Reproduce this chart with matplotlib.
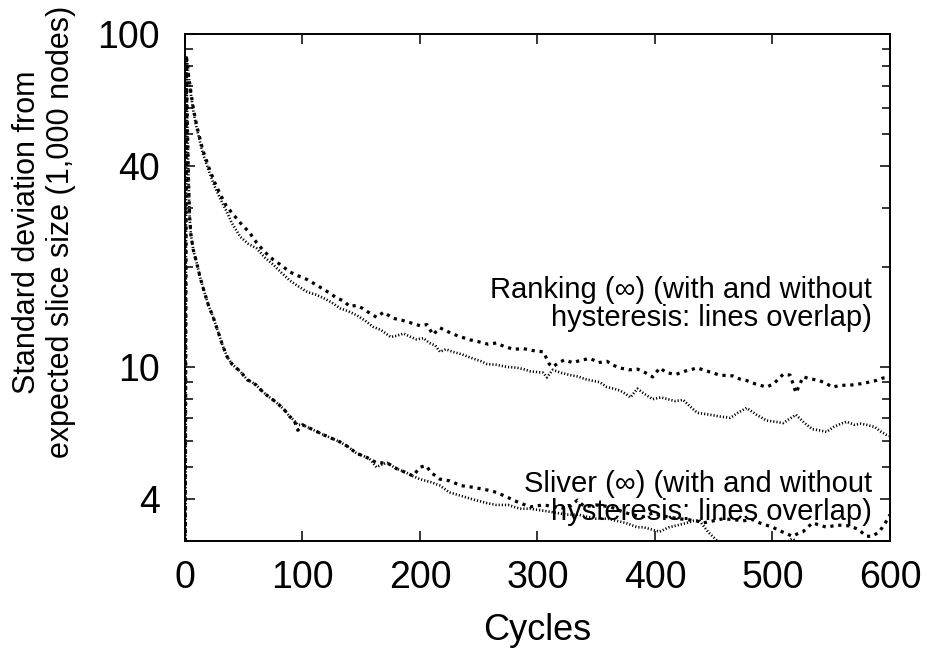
import numpy as np
import matplotlib
matplotlib.use('Agg')
import matplotlib.pyplot as plt
from matplotlib.ticker import FixedLocator, NullFormatter

plt.rcParams['font.family'] = ['Liberation Sans', 'DejaVu Sans']

# Ranking, line drawn with heavy dots (ends higher)
rank_a_x = [0, 1, 2, 3, 5, 7, 10, 15, 20, 25, 30, 35, 40, 47, 55, 61, 67, 75, 82, 89,
            96, 104, 111, 118, 124, 129, 135, 140, 146, 151, 156, 163, 169, 177, 185, 194,
            200, 206, 211, 217, 225, 232, 243, 250, 258, 265, 272, 280, 288, 296, 305, 310,
            313, 318, 323, 330, 338, 345, 352, 359, 365, 370, 378, 385, 392, 398, 404, 410,
            418, 425, 436, 445, 455, 466, 472, 478, 485, 490, 495, 501, 509, 515, 520, 526,
            533, 540, 546, 551, 558, 568, 575, 582, 588, 594, 600]
rank_a_y = [1.0, 86, 82, 75, 67, 60, 53, 45, 40, 36, 33, 30.5, 29, 27.1, 25.3, 23.6, 22.3, 21.0, 20.2, 19.3,
            18.8, 18.3, 17.7, 17.1, 16.6, 16.1, 15.8, 15.2, 15.3, 15.0, 14.6, 14.1, 14.6, 14.0, 13.8, 13.5,
            13.3, 13.4, 12.5, 13.1, 12.7, 12.4, 12.05, 11.9, 11.7, 11.8, 11.5, 11.3, 11.35, 11.2, 11.1, 10.2,
            10.0, 10.3, 10.5, 10.3, 10.5, 10.6, 10.3, 10.4, 10.1, 9.93, 9.8, 9.85, 9.6, 9.33, 9.93, 9.6,
            9.5, 9.7, 9.93, 9.7, 9.45, 9.4, 9.2, 9.1, 8.9, 8.8, 8.7, 8.9, 9.5, 9.45, 8.36, 9.33,
            9.2, 9.1, 8.9, 8.7, 8.8, 8.83, 8.9, 9.0, 9.1, 9.26, 9.3]

# Ranking, line drawn with fine dots (ends lower)
rank_b_x = [0, 1, 2, 3, 5, 7, 10, 15, 20, 25, 30, 35, 40, 47, 54, 61, 68, 75, 82, 89,
            96, 104, 111, 118, 125, 132, 139, 146, 153, 160, 167, 175, 180, 186, 192, 197,
            203, 208, 213, 217, 222, 228, 236, 245, 252, 257, 265, 274, 282, 288, 294, 300,
            305, 308, 313, 320, 328, 335, 340, 346, 353, 359, 365, 370, 375, 379, 385, 391,
            398, 405, 411, 417, 424, 430, 436, 445, 455, 464, 471, 478, 486, 495, 502, 509,
            515, 520, 527, 534, 540, 546, 552, 558, 563, 570, 575, 580, 587, 592, 597, 600]
rank_b_y = [1.0, 86, 82, 75, 66, 59, 52, 44, 39, 35, 32, 29.5, 27, 24.6, 23.4, 22.7, 21.3, 20.3, 19.2, 18.2,
            17.5, 16.8, 16.5, 16.1, 15.6, 15.0, 14.7, 14.3, 13.8, 13.2, 12.9, 12.3, 12.4, 12.6, 12.3, 12.1,
            12.2, 11.8, 11.6, 11.1, 11.3, 11.1, 10.9, 10.6, 10.4, 10.2, 10.15, 10.0, 9.95, 9.85, 9.7, 9.65,
            9.6, 9.3, 9.8, 9.6, 9.45, 9.35, 9.2, 9.1, 9.0, 8.7, 8.6, 8.5, 8.3, 8.1, 8.6, 8.3,
            8.0, 8.1, 8.0, 7.9, 7.96, 7.6, 7.28, 7.2, 7.1, 7.03, 7.3, 7.53, 7.2, 6.9, 6.85, 6.78,
            7.0, 7.18, 6.8, 6.5, 6.45, 6.38, 6.6, 6.75, 6.84, 6.7, 6.75, 6.7, 6.6, 6.4, 6.25, 6.2]

# Sliver, heavy dots
sliv_a_x = [0, 1, 2, 3, 4, 5, 7, 10, 13, 16, 20, 24, 28, 32, 36, 40, 44, 47, 53, 57,
            61, 65, 70, 75, 80, 85, 89, 93, 96, 100, 104, 110, 118, 125, 132, 139, 146, 152,
            157, 163, 168, 172, 180, 189, 194, 200, 205, 210, 217, 225, 235, 245, 257, 265,
            275, 285, 294, 305, 315, 325, 334, 340, 350, 362, 370, 380, 390, 398, 410, 420,
            427, 435, 441, 450, 458, 466, 475, 483, 489, 500, 508, 517, 521, 526, 534, 540,
            546, 555, 566, 573, 580, 585, 591, 596, 600]
sliv_a_y = [1.0, 86, 55, 36, 28, 25, 22.5, 20.5, 18.5, 17, 15.3, 14.1, 12.8, 11.6, 10.7, 10.2, 9.9, 9.7, 9.15, 9.0,
            8.8, 8.5, 8.2, 7.96, 7.7, 7.4, 7.1, 6.9, 6.45, 6.7, 6.6, 6.45, 6.25, 6.1, 5.95, 5.75, 5.5, 5.4,
            5.3, 5.15, 5.15, 5.15, 4.95, 4.8, 4.7, 5.0, 5.05, 4.8, 4.6, 4.55, 4.4, 4.35, 4.27, 4.2,
            4.05, 3.9, 3.8, 3.85, 3.8, 3.75, 3.98, 3.8, 3.85, 3.8, 3.7, 3.6, 3.55, 3.64, 3.55, 3.5,
            3.48, 3.45, 3.4, 3.45, 3.5, 3.48, 3.45, 3.48, 3.4, 3.3, 3.2, 3.1, 3.15, 3.2, 3.4, 3.35,
            3.3, 3.35, 3.33, 3.25, 3.1, 3.1, 3.2, 3.4, 3.6]

# Sliver, fine dots
sliv_b_x = [0, 1, 2, 3, 4, 5, 7, 10, 13, 16, 20, 24, 28, 32, 36, 40, 44, 47, 53, 57,
            61, 65, 70, 75, 80, 85, 89, 93, 96, 100, 104, 110, 118, 125, 132, 139, 146, 152,
            157, 163, 168, 172, 180, 189, 194, 200, 205, 210, 217, 225, 235, 245, 257, 265,
            275, 285, 294, 305, 315, 325, 335, 342, 350, 360, 367, 375, 385, 390, 397, 404,
            412, 420, 427, 433, 438, 445, 453, 460, 470, 480, 490, 500, 510, 517, 522, 530,
            540, 555, 570, 585, 600]
sliv_b_y = [1.0, 86, 55, 36, 28, 25, 22.5, 20.5, 18.5, 17, 15.3, 14.1, 12.8, 11.6, 10.7, 10.2, 9.9, 9.7, 9.15, 9.0,
            8.8, 8.5, 8.2, 7.96, 7.7, 7.4, 7.1, 6.9, 6.7, 6.7, 6.6, 6.45, 6.25, 6.1, 5.95, 5.75, 5.5, 5.4,
            5.3, 5.0, 5.1, 5.15, 4.95, 4.8, 4.7, 4.6, 4.55, 4.5, 4.4, 4.2, 4.1, 4.0, 3.9, 3.85,
            3.85, 3.75, 3.75, 3.7, 3.65, 3.6, 3.6, 3.55, 3.5, 3.5, 3.45, 3.4, 3.3, 3.3, 3.25, 3.2,
            3.3, 3.35, 3.4, 3.45, 3.45, 3.2, 3.0, 2.9, 2.85, 2.9, 2.95, 2.9, 2.95, 3.05, 2.95, 2.9,
            2.85, 2.85, 2.9, 2.9, 2.9]

ytick_vals = [4, 10, 40, 100]
ytick_minor = [3, 5, 6, 7, 8, 9, 20, 30, 50, 60, 70, 80, 90]
xtick_vals = [0, 100, 200, 300, 400, 500, 600]

fig = plt.figure(figsize=(9.28, 6.52), dpi=100)
ax = fig.add_axes([185 / 928, 1 - 541 / 652, 705 / 928, 507 / 652])

heavy = dict(color='black', lw=2.3, linestyle=(0, (1.0, 1.5)))
fine = dict(color='black', lw=1.9, linestyle=(0, (0.45, 0.75)))
ax.plot(rank_a_x, rank_a_y, **heavy)
ax.plot(rank_b_x, rank_b_y, **fine)
ax.plot(sliv_a_x, sliv_a_y, **heavy)
ax.plot(sliv_b_x, sliv_b_y, **fine)

ax.set_yscale('log')
ax.set_ylim(3, 100)
ax.set_xlim(0, 600)
ax.yaxis.set_major_locator(FixedLocator(ytick_vals))
ax.yaxis.set_minor_locator(FixedLocator(ytick_minor))
ax.yaxis.set_minor_formatter(NullFormatter())
ax.set_yticklabels([str(v) for v in ytick_vals])
ax.set_xticks(xtick_vals)
ax.set_xticklabels([str(v) for v in xtick_vals])

ax.tick_params(which='both', direction='in', top=True, right=True, width=1.1,
               labelsize=27)
ax.tick_params(axis='x', which='major', length=7, pad=14)
ax.tick_params(axis='y', which='major', length=7, pad=18)
ax.tick_params(axis='y', which='minor', length=6)
for s in ax.spines.values():
    s.set_linewidth(1.4)

ax.text(0.975, 0.467, 'Ranking (\u221e) (with and without\nhysteresis: lines overlap)',
        transform=ax.transAxes, ha='right', va='center', fontsize=21, linespacing=1.0)
ax.text(0.975, 0.085, 'Sliver (\u221e) (with and without\nhysteresis: lines overlap)',
        transform=ax.transAxes, ha='right', va='center', fontsize=21, linespacing=1.0)

ax.set_xlabel('Cycles', fontsize=26, labelpad=12)
fig.text(44 / 928, 1 - 232 / 652, 'Standard deviation from\nexpected slice size (1,000 nodes)',
         rotation=90, ha='center', va='center', fontsize=22, linespacing=1.18,
         multialignment='center')

fig.savefig('out.png', dpi=100)
